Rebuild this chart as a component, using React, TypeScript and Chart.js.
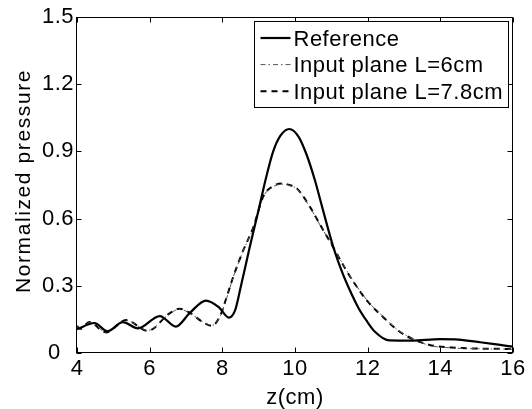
import React, { useEffect, useRef } from 'react';
import { Chart, registerables } from 'chart.js';

Chart.register(...registerables);

// ---- data ----
const seriesLabels = ['Reference', 'Input plane L=6cm', 'Input plane L=7.8cm'];

const zRef = [4.0, 4.48, 4.84, 5.26, 5.68, 6.28, 6.72, 7.1, 7.55, 7.9, 8.18, 8.35, 8.5, 8.75, 9.0, 9.2, 9.4, 9.6, 9.84, 10.1, 10.32, 10.55, 10.75, 11.06, 11.3, 11.51, 11.75, 11.97, 12.2, 12.6, 13.2, 14.0, 14.5, 15.1, 15.6, 16.0];
const pRef = [0.106, 0.134, 0.097, 0.138, 0.110, 0.165, 0.118, 0.178, 0.234, 0.205, 0.158, 0.19, 0.29, 0.47, 0.64, 0.78, 0.9, 0.97, 1.0, 0.965, 0.885, 0.77, 0.65, 0.47, 0.36, 0.28, 0.2, 0.144, 0.095, 0.056, 0.055, 0.062, 0.06, 0.048, 0.037, 0.028];

const zL6 = [4.0, 4.1, 4.36, 4.8, 5.35, 5.95, 6.54, 6.82, 7.1, 7.48, 7.71, 7.94, 8.1, 8.3, 8.58, 8.85, 9.13, 9.4, 9.63, 9.85, 10.05, 10.42, 10.7, 11.06, 11.3, 11.6, 12.0, 12.43, 12.8, 13.07, 13.7, 14.3, 15.0, 16.0];
const pL6 = [0.118, 0.11, 0.136, 0.094, 0.145, 0.101, 0.174, 0.196, 0.178, 0.138, 0.123, 0.164, 0.235, 0.338, 0.458, 0.558, 0.698, 0.742, 0.754, 0.748, 0.733, 0.648, 0.568, 0.47, 0.402, 0.322, 0.232, 0.162, 0.107, 0.078, 0.034, 0.023, 0.019, 0.017];

const zL78 = [4.0, 4.1, 4.34, 4.8, 5.35, 5.95, 6.54, 6.82, 7.1, 7.48, 7.71, 7.94, 8.1, 8.3, 8.58, 8.85, 9.13, 9.4, 9.63, 9.85, 10.05, 10.42, 10.7, 11.06, 11.3, 11.6, 12.0, 12.43, 12.8, 13.07, 13.7, 14.3, 15.0, 16.0];
const pL78 = [0.12, 0.108, 0.138, 0.092, 0.147, 0.099, 0.176, 0.198, 0.18, 0.136, 0.121, 0.166, 0.24, 0.34, 0.46, 0.56, 0.70, 0.745, 0.757, 0.75, 0.735, 0.65, 0.57, 0.47, 0.40, 0.32, 0.23, 0.16, 0.105, 0.076, 0.036, 0.025, 0.02, 0.018];

const xTicks = [4, 6, 8, 10, 12, 14, 16];
const yTicks = [0, 0.3, 0.6, 0.9, 1.2, 1.5];
const xTitle = 'z(cm)';
const yTitle = 'Normalized pressure';

const FONT = '"Liberation Sans", Arial, Helvetica, sans-serif';
const FS = 22;
const LS = '0.5px';

const toXY = (zs: number[], ps: number[]) => zs.map((z, i) => ({ x: z, y: ps[i] }));

const framePlugin = {
  id: 'frameLegend',
  beforeDraw(chart: any) {
    const ctx = chart.ctx as any;
    ctx.letterSpacing = LS;
  },
  afterDraw(chart: any) {
    const ctx = chart.ctx as any;
    const a = chart.chartArea;
    const sx = chart.scales.x;
    const sy = chart.scales.y;
    ctx.save();
    ctx.strokeStyle = '#000';
    ctx.lineWidth = 1;
    ctx.setLineDash([]);
    const L = Math.round(a.left) - 0.5;
    const R = Math.round(a.right) - 0.5;
    const T = Math.round(a.top) + 0.5;
    const B = Math.round(a.bottom) - 0.5;
    ctx.strokeRect(L, T, R - L, B - T);
    const tl = 5;
    ctx.beginPath();
    xTicks.forEach((v) => {
      const px = Math.round(sx.getPixelForValue(v)) + 0.5;
      ctx.moveTo(px, B); ctx.lineTo(px, B - tl);
      ctx.moveTo(px, T); ctx.lineTo(px, T + tl);
    });
    yTicks.forEach((v) => {
      const py = Math.round(sy.getPixelForValue(v)) + 0.5;
      ctx.moveTo(L, py); ctx.lineTo(L + tl, py);
      ctx.moveTo(R, py); ctx.lineTo(R - tl, py);
    });
    ctx.stroke();

    // y axis title (drawn here to control its letter spacing)
    ctx.save();
    ctx.translate(24, (a.top + a.bottom) / 2 - 4);
    ctx.rotate(-Math.PI / 2);
    ctx.font = `21px ${FONT}`;
    ctx.letterSpacing = '1.6px';
    ctx.textAlign = 'center';
    ctx.textBaseline = 'middle';
    ctx.fillStyle = '#000';
    ctx.fillText(yTitle, 0, 0);
    ctx.restore();

    // legend
    const bw = 254;
    const bh = 86;
    const bx = Math.round(a.right) - 5 - bw + 0.5;
    const by = Math.round(a.top) + 4 + 0.5;
    ctx.fillStyle = '#fff';
    ctx.fillRect(bx, by, bw, bh);
    ctx.strokeRect(bx, by, bw, bh);
    ctx.font = `${FS}px ${FONT}`;
    ctx.letterSpacing = LS;
    ctx.textBaseline = 'alphabetic';
    ctx.textAlign = 'left';
    chart.data.datasets.forEach((ds: any, i: number) => {
      const base = by + 24 + i * 26.6;
      const ly = base - 7.5;
      ctx.save();
      ctx.strokeStyle = ds.borderColor;
      ctx.lineWidth = ds.borderWidth;
      ctx.setLineDash(ds.borderDash || []);
      ctx.beginPath();
      ctx.moveTo(bx + 6, ly);
      ctx.lineTo(bx + 36, ly);
      ctx.stroke();
      ctx.restore();
      ctx.fillStyle = '#000';
      ctx.fillText(ds.label, bx + 39, base);
    });
    ctx.restore();
  },
};

export default function App() {
  const ref = useRef<HTMLCanvasElement | null>(null);
  useEffect(() => {
    if (!ref.current) return;
    Chart.defaults.font.family = FONT;
    const chart = new Chart(ref.current, {
      type: 'line',
      data: {
        datasets: [
          {
            label: seriesLabels[0],
            data: toXY(zRef, pRef),
            borderColor: '#000',
            borderWidth: 2.2,
            borderDash: [],
            pointRadius: 0,
            cubicInterpolationMode: 'monotone',
            fill: false,
          },
          {
            label: seriesLabels[1],
            data: toXY(zL6, pL6),
            borderColor: '#555',
            borderWidth: 1,
            borderDash: [5, 3, 1.5, 3],
            pointRadius: 0,
            cubicInterpolationMode: 'monotone',
            fill: false,
          },
          {
            label: seriesLabels[2],
            data: toXY(zL78, pL78),
            borderColor: '#000',
            borderWidth: 2,
            borderDash: [6, 5],
            pointRadius: 0,
            cubicInterpolationMode: 'monotone',
            fill: false,
          },
        ],
      } as any,
      options: {
        animation: false,
        responsive: false,
        devicePixelRatio: 1,
        layout: { padding: { left: 0, right: 19, top: 17, bottom: 0 } },
        plugins: { legend: { display: false }, tooltip: { enabled: false } },
        elements: { point: { radius: 0 } },
        scales: {
          x: {
            type: 'linear',
            min: 4,
            max: 16,
            afterBuildTicks: (s: any) => { s.ticks = xTicks.map((v) => ({ value: v })); },
            afterFit: (s: any) => { s.height = 56; },
            grid: { display: false, drawTicks: false },
            border: { display: false },
            ticks: { color: '#000', font: { size: FS }, padding: 3, maxRotation: 0, autoSkip: false, callback: (v: any) => String(v) },
            title: { display: true, text: xTitle, color: '#000', font: { size: FS, lineHeight: 1 }, padding: { top: 0, bottom: 0 } },
          },
          y: {
            type: 'linear',
            min: 0,
            max: 1.5,
            afterBuildTicks: (s: any) => { s.ticks = yTicks.map((v) => ({ value: v })); },
            afterFit: (s: any) => { s.width = 77; },
            grid: { display: false, drawTicks: false },
            border: { display: false },
            ticks: { color: '#000', font: { size: FS }, padding: 3, autoSkip: false, callback: (v: any) => (Number(v) === 0 ? '0  ' : Number(v).toFixed(1)) },
            title: { display: false },
          },
        },
      } as any,
      plugins: [framePlugin],
    });
    return () => chart.destroy();
  }, []);
  return (
    <div style={{ position: 'fixed', left: 0, top: 0, width: 532, height: 409, background: '#fff' }}>
      <canvas ref={ref} width={532} height={409} style={{ display: 'block', width: 532, height: 409 }} />
    </div>
  );
}
